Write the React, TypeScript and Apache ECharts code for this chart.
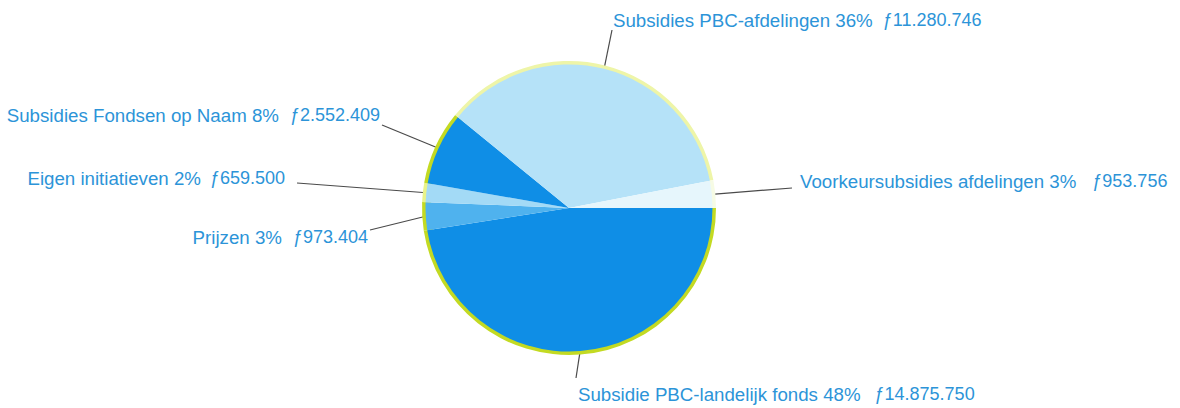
import React, { useEffect, useRef } from "react";
import * as echarts from "echarts";

// Data (clockwise from 3 o'clock)
const categories = [
  "Subsidie PBC-landelijk fonds",
  "Prijzen",
  "Eigen initiatieven",
  "Subsidies Fondsen op Naam",
  "Subsidies PBC-afdelingen",
  "Voorkeursubsidies afdelingen",
];
const amounts = [14875750, 973404, 659500, 2552409, 11280746, 953756];

// Styles
const sliceColors = ["#0f8ee6", "#4fb2ee", "#a3daf6", "#0f8ee6", "#b5e2f8", "#e6f6fc"];
const rimColors = ["#c3da22", "#c3da22", "#e9f38a", "#c3da22", "#eef5a8", "#f6fbe4"];
// label layout: [x, y, align, lineEndX, lineEndY, gapBeforeAmount]
const labelPos: [number, number, string, number, number, number][] = [
  [578, 394, "left", 576, 378, 14],
  [368, 237, "right", 370, 230, 11],
  [285, 178, "right", 297, 183, 9],
  [380, 115, "right", 382, 125, 11],
  [613, 20, "left", 612, 30, 10],
  [800, 181, "left", 792, 188, 16],
];

function fmt(v: number): string {
  return String(v).replace(/\B(?=(\d{3})+(?!\d))/g, ".");
}

export default function App() {
  const ref = useRef<HTMLDivElement>(null);
  useEffect(() => {
    const chart = echarts.init(ref.current!, undefined, { renderer: "svg" });
    const font = "Liberation Sans, Arial, sans-serif";
    const data = categories.map((name, i) => ({
      name,
      value: amounts[i],
      itemStyle: { color: sliceColors[i] },
      label: {
        rich: {
          t: { fontSize: 18.7, color: "#2c94d8", fontFamily: font },
          v: {
            fontSize: 18,
            color: "#2c94d8",
            fontFamily: font,
            padding: [0, 0, 0, labelPos[i][5]],
          },
        },
      },
    }));
    const rimData = categories.map((name, i) => ({
      name,
      value: amounts[i],
      itemStyle: { color: rimColors[i] },
    }));
    chart.setOption({
      animation: false,
      backgroundColor: "#ffffff",
      series: [
        {
          type: "pie",
          silent: true,
          center: [569, 208],
          radius: [138, 147],
          startAngle: 0,
          clockwise: true,
          label: { show: false },
          labelLine: { show: false },
          data: rimData,
        },
        {
          type: "pie",
          center: [569, 208],
          radius: [0, 143.5],
          startAngle: 0,
          clockwise: true,
          label: {
            show: true,
            color: "#2c94d8",
            fontFamily: font,
            fontSize: 18,
            formatter: (p: any) =>
              `{t|${p.name} ${Math.round(p.percent)}%}{v|\u0192${fmt(p.value)}}`,
          },
          labelLine: {
            show: true,
            lineStyle: { color: "#4a4a4a", width: 1.2 },
          },
          labelLayout: (params: any) => {
            const lp = labelPos[params.dataIndex];
            const start = params.labelLinePoints
              ? params.labelLinePoints[0]
              : [lp[3], lp[4]];
            return {
              x: lp[0],
              y: lp[1],
              align: lp[2],
              verticalAlign: "middle",
              labelLinePoints: [start, [lp[3], lp[4]], [lp[3], lp[4]]],
            };
          },
          data,
        },
      ],
    });
    return () => chart.dispose();
  }, []);
  return (
    <div
      ref={ref}
      style={{ position: "absolute", left: 0, top: 0, width: 1180, height: 408 }}
    />
  );
}
